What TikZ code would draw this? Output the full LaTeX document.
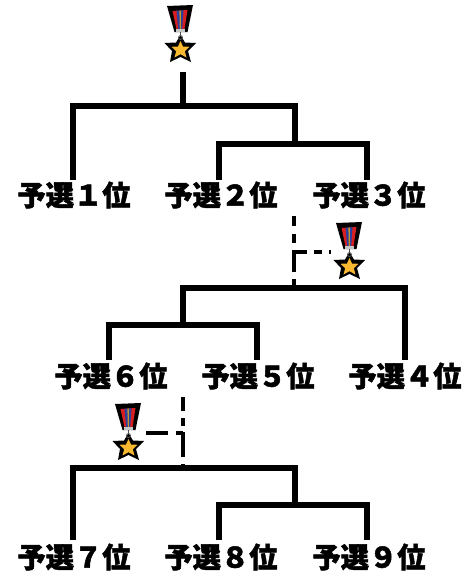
\documentclass[tikz,border=0pt]{standalone}
\usepackage{fontspec}
\setmainfont{Noto Sans CJK JP}[BoldFont={* Black},BoldFeatures={FakeBold=1.6}]
\definecolor{ribred}{HTML}{D81E1E}
\definecolor{ribblue}{HTML}{2A3F9E}
\definecolor{stargold}{HTML}{F8B830}
\tikzset{
  x=0.75pt,y=-0.75pt,
  bar/.style={line width=4.4pt,line cap=butt,line join=miter},
  dashbar/.style={line width=2.3pt},
  seed/.style={inner sep=0pt,font=\bfseries\fontsize{21.2}{21.2}\selectfont},
  medal/.pic={
    \fill[black] (-13,-27) -- (13,-28) -- (7.5,-1) -- (-5.5,-1) -- cycle;
    \fill[ribred] (-7.5,-22) -- (7.5,-23) -- (4.5,-4) -- (-3.5,-4) -- cycle;
    \fill[ribblue] (-3.5,-22.3) -- (3.5,-22.7) -- (2.2,-4) -- (-1.8,-4) -- cycle;
    \fill[stargold!80!black] (-.6,-22.5) -- (.8,-22.5) -- (.8,-4) -- (-.2,-4) -- cycle;
    \fill[gray!45] (-4,-4) rectangle (5,-1.5);
    \draw[gray!60!black,line width=.7pt] (.5,-1) -- (.5,5);
    \fill[black] (0.5,2) -- (5,9.5) -- (16,10) -- (8,18) -- (11,29) -- (0.5,24) -- (-10,29) -- (-8,18) -- (-15.5,10) -- (-4,9.5) -- cycle;
    \fill[stargold] (0.5,8) -- (3,13.5) -- (9.5,13.8) -- (4.8,18.2) -- (6.5,24.5) -- (0.5,21.2) -- (-5.5,24.5) -- (-3.8,18.2) -- (-8.5,13.8) -- (-2,13.5) -- cycle;
    \draw[gray!70!black,line width=.6pt] (.5,4.5) circle[radius=2];
  }
}
\begin{document}
\begin{tikzpicture}
\useasboundingbox (0,0) rectangle (475,576);
% labels
\node[seed] (a1) at (74,195) {予選１位};
\node[seed] (a2) at (221,195) {予選２位};
\node[seed] (a3) at (369,195) {予選３位};
\node[seed] (b6) at (111,376) {予選６位};
\node[seed] (b5) at (258,376) {予選５位};
\node[seed] (b4) at (405,376) {予選４位};
\node[seed] (c7) at (74,557) {予選７位};
\node[seed] (c8) at (221,557) {予選８位};
\node[seed] (c9) at (369,557) {予選９位};
% medals
\pic at (180,33) {medal};
\pic at (349,250) {medal};
\pic at (128,431) {medal};
% bracket 1
\coordinate (m1) at (183,72);
\coordinate (j1) at (183,106);
\draw[bar] (m1) -- (j1);
\draw[bar] (73,180) |- (295,106) -- (295,144);
\draw[bar] (219,180) |- (367,144) -- (367,180);
% bracket 2
\coordinate (d2t) at (294,216);
\coordinate (d2b) at (294,285);
\coordinate (d2j) at (294,252);
\coordinate (m2) at (331,252);
\draw[dashbar,dash pattern=on 7.5pt off 6pt on 6.75pt off 5.25pt on 16.5pt off 5.25pt on 4.5pt off 9pt] (d2t) -- (d2b);
\draw[dashbar,dash pattern=on 9.75pt off 5.25pt on 6pt off 5.25pt on 1.5pt off 9pt] (d2j) -- (m2);
\draw[bar] (183,325) |- (405,288) -- (405,360);
\draw[bar] (109,360) |- (257,325) -- (257,360);
% bracket 3
\coordinate (d3t) at (183,397);
\coordinate (d3b) at (183,466);
\coordinate (d3j) at (183,433);
\coordinate (m3) at (146,433);
\draw[dashbar,dash pattern=on 10.5pt off 5.25pt on 6pt off 4.5pt on 18.75pt off 5.25pt on 1.5pt off 9pt] (d3t) -- (d3b);
\draw[dashbar,dash pattern=on 16.5pt off 6pt on 6pt off 9pt] (m3) -- (d3j);
\draw[bar] (73,540) |- (295,468) -- (295,505);
\draw[bar] (219,540) |- (367,505) -- (367,540);
\end{tikzpicture}
\end{document}
